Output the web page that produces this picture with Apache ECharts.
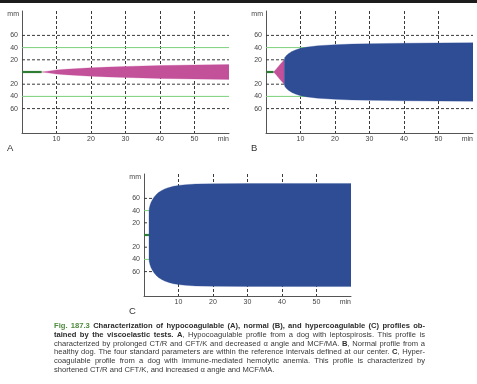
<!DOCTYPE html>
<html>
<head>
<meta charset="utf-8">
<script src="https://cdn.jsdelivr.net/npm/echarts@6/dist/echarts.min.js"></script>
<style>
html,body{margin:0;padding:0;background:#fff;}
#c{width:477px;height:384px;}
</style>
</head>
<body>
<div id="c"></div>
<script>
// ---------- data ----------
const xTickValues = [0, 10, 20, 30, 40, 50, 60];
const xUnitLabel = 'min';
const yUnitLabel = 'mm';
const yShownTicks = [20, 40, 60];
const dashedRefs = [60, 20, -20, -60];
const greenRefs = [40, -40];
const panelLetters = ['A', 'B', 'C'];

// Panel A: hypocoagulable
const aStubEnd = 5.7;
const aTime = [5.7, 8, 10, 12.5, 15, 20, 25, 30, 35, 40, 45, 50, 55, 60];
const aHalf = [0, 1.8, 3.4, 4.4, 5.3, 6.8, 8.0, 9.0, 9.8, 10.5, 11.0, 11.5, 11.8, 12.1];

// Panel B: normal
const bStubEnd = 2.2;
const bTriTime = [2.2, 3, 4, 5.3];
const bTriHalf = [0, 5, 12, 20];
const bTime = [5.3, 5.5, 6, 6.6, 7.5, 8.5, 10, 12, 15, 20, 25, 30, 40, 50, 60];
const bHalf = [20, 24, 27.5, 30.5, 33.5, 36, 38.8, 41, 43, 44.8, 45.8, 46.4, 47.2, 47.7, 48];

// Panel C: hypercoagulable
const cStubEnd = 1.45;
const cTime = [1.45, 1.5, 1.7, 2, 2.4, 2.9, 3.5, 4.2, 5, 6, 7, 8.5, 10, 12, 15, 20, 30, 45, 60];
const cHalf = [38, 43, 48, 53, 57.5, 62, 66, 69.5, 72.5, 75.5, 77.5, 79.8, 81.3, 82.5, 83.5, 84, 84.3, 84.5, 84.5];

// Caption
const captionLines = [
  [{t: 'Fig. 187.3', s: 'f'}, {t: ' Characterization of hypocoagulable (A), normal (B), and hypercoagulable (C) profiles ob-', s: 'b'}],
  [{t: 'tained by the viscoelastic tests. A', s: 'b'}, {t: ', Hypocoagulable profile from a dog with leptospirosis. This profile is', s: 'r'}],
  [{t: 'characterized by prolonged CT/R and CFT/K and decreased \u03b1 angle and MCF/MA. ', s: 'r'}, {t: 'B', s: 'b'}, {t: ', Normal profile from a', s: 'r'}],
  [{t: 'healthy dog. The four standard parameters are within the reference intervals defined at our center. ', s: 'r'}, {t: 'C', s: 'b'}, {t: ', Hyper-', s: 'r'}],
  [{t: 'coagulable profile from a dog with immune-mediated hemolytic anemia. This profile is characterized by', s: 'r'}],
  [{t: 'shortened CT/R and CFT/K, and increased \u03b1 angle and MCF/MA.', s: 'r'}]
];

// ---------- styles ----------
const FONT = '"Liberation Sans", Arial, Helvetica, sans-serif';
const MAGENTA = '#c2519a';
const BLUE = '#2e4d95';
const DARKGREEN = '#2f7d34';
const LIGHTGREEN = '#7ccf7c';
const DASH = '#3a3a3a';
const AXIS = '#555';
const LABEL = '#444';

const grids = [
  {left: 22, top: 11, width: 207, height: 122},
  {left: 266, top: 11, width: 207, height: 122},
  {left: 144, top: 174, width: 207, height: 122}
];

function xAxisFor(i) {
  return {
    type: 'value', gridIndex: i, min: xTickValues[0], max: xTickValues[xTickValues.length - 1], interval: 10,
    axisLine: {show: true, onZero: false, lineStyle: {color: AXIS, width: 1}},
    axisTick: {show: false},
    splitLine: {show: true, showMinLine: false, showMaxLine: false, lineStyle: {color: DASH, width: 1, type: [3, 2]}},
    axisLabel: {
      fontSize: 7, color: LABEL, fontFamily: FONT, margin: 3, alignMaxLabel: 'right',
      formatter: v => v === xTickValues[0] ? '' : (v === xTickValues[xTickValues.length - 1] ? xUnitLabel : String(v))
    }
  };
}
function yAxisFor(i) {
  return {
    type: 'value', gridIndex: i, min: -100, max: 100, interval: 20,
    axisLine: {show: true, onZero: false, lineStyle: {color: AXIS, width: 1}},
    axisTick: {show: false},
    splitLine: {show: false},
    name: yUnitLabel, nameLocation: 'end', nameGap: -3,
    nameTextStyle: {fontSize: 7, color: LABEL, fontFamily: FONT, align: 'right', verticalAlign: 'middle', padding: [0, 3, 0, 0]},
    axisLabel: {
      fontSize: 7, color: LABEL, fontFamily: FONT, margin: 4,
      formatter: v => yShownTicks.indexOf(Math.abs(v)) >= 0 ? String(Math.abs(v)) : ''
    }
  };
}

function refLines(i) {
  const out = [];
  const x0 = xTickValues[0], x1 = xTickValues[xTickValues.length - 1];
  dashedRefs.forEach(v => out.push({
    type: 'line', xAxisIndex: i, yAxisIndex: i, z: 1, silent: true, symbol: 'none',
    data: [[x0, v], [x1, v]], lineStyle: {color: DASH, width: 1, type: [3, 2]}
  }));
  greenRefs.forEach(v => out.push({
    type: 'line', xAxisIndex: i, yAxisIndex: i, z: 1, silent: true, symbol: 'none',
    data: [[x0, v], [x1, v]], lineStyle: {color: LIGHTGREEN, width: 1}
  }));
  return out;
}
function stubSeries(i, stubEnd) {
  return {
    type: 'line', xAxisIndex: i, yAxisIndex: i, z: 4, silent: true, symbol: 'none',
    data: [[0, 0], [stubEnd, 0]], lineStyle: {color: DARKGREEN, width: 2.2}
  };
}

function bandSeries(i, times, halves, color) {
  return {
    type: 'custom', xAxisIndex: i, yAxisIndex: i, z: 3,
    data: [[times[0], 0]],
    clip: true, silent: true,
    renderItem: function (params, api) {
      const pts = [];
      for (let k = 0; k < times.length; k++) pts.push(api.coord([times[k], halves[k]]));
      for (let k = times.length - 1; k >= 0; k--) pts.push(api.coord([times[k], -halves[k]]));
      return {type: 'polygon', shape: {points: pts}, style: {fill: color, stroke: color, lineWidth: 0.3}};
    }
  };
}

// ---------- caption layout (justified) ----------
const CAP_FS = 7.6;
const CAP_LEFT = 54, CAP_RIGHT = 425;
const capCenters = [325.7, 334.6, 343.5, 352.3, 361.2, 370.0];
const capColors = {f: '#4e8a3e', b: '#2d2d2d', r: '#383838'};
function capFont(s) { return (s === 'r' ? '' : 'bold ') + CAP_FS + 'px ' + FONT; }

function buildCaption() {
  const ctx = document.createElement('canvas').getContext('2d');
  const meas = (t, s) => { ctx.font = capFont(s); return ctx.measureText(t).width; };
  const els = [];
  captionLines.forEach((line, li) => {
    const words = []; let cur = [];
    line.forEach(seg => {
      const parts = seg.t.split(' ');
      parts.forEach((p, pi) => {
        if (pi > 0) { if (cur.length) words.push(cur); cur = []; }
        if (p) cur.push({t: p, s: seg.s});
      });
    });
    if (cur.length) words.push(cur);
    const widths = words.map(w => w.reduce((a, pc) => a + meas(pc.t, pc.s), 0));
    const total = widths.reduce((a, b) => a + b, 0);
    const last = li === captionLines.length - 1;
    const gap = last ? meas(' ', 'r') : (CAP_RIGHT - CAP_LEFT - total) / (words.length - 1);
    let x = CAP_LEFT;
    words.forEach((w, wi) => {
      let px = x;
      w.forEach(pc => {
        els.push({type: 'text', x: px, y: capCenters[li], silent: true,
          style: {text: pc.t, font: capFont(pc.s), fill: capColors[pc.s], textAlign: 'left', textVerticalAlign: 'middle', verticalAlign: 'middle'}});
        px += meas(pc.t, pc.s);
      });
      x += widths[wi] + gap;
    });
  });
  return els;
}

const letterPos = [[7, 148], [251, 148], [129, 311]];
const graphics = [
  {type: 'rect', shape: {x: 0, y: 0, width: 477, height: 3}, style: {fill: '#1c1c1c'}, silent: true}
];
panelLetters.forEach((L, i) => graphics.push({
  type: 'text', x: letterPos[i][0], y: letterPos[i][1], silent: true,
  style: {text: L, font: '9.5px ' + FONT, fill: '#333', textAlign: 'left', verticalAlign: 'middle', textVerticalAlign: 'middle'}
}));

const chart = echarts.init(document.getElementById('c'), null, {renderer: 'canvas'});
chart.setOption({
  backgroundColor: '#fff',
  animation: false,
  grid: grids,
  xAxis: [xAxisFor(0), xAxisFor(1), xAxisFor(2)],
  yAxis: [yAxisFor(0), yAxisFor(1), yAxisFor(2)],
  series: [].concat(
    refLines(0), [bandSeries(0, aTime, aHalf, MAGENTA), stubSeries(0, aStubEnd)],
    refLines(1), [bandSeries(1, bTriTime, bTriHalf, MAGENTA), bandSeries(1, bTime, bHalf, BLUE), stubSeries(1, bStubEnd)],
    refLines(2), [bandSeries(2, cTime, cHalf, BLUE), stubSeries(2, cStubEnd)]
  ),
  graphic: graphics.concat(buildCaption())
});
</script>
</body>
</html>
